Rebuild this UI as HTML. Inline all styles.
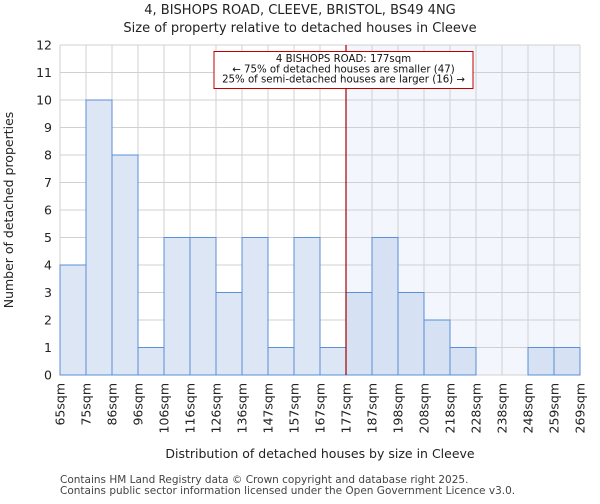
<!DOCTYPE html>
<html><head><meta charset="utf-8"><style>
body{margin:0;background:#fff;font-family:"DejaVu Sans","Liberation Sans",sans-serif}
</style></head><body>
<svg id="chart" width="600" height="500" xmlns="http://www.w3.org/2000/svg" font-family="DejaVu Sans, Liberation Sans, sans-serif">
<text x="300" y="14" text-anchor="middle" font-size="13" fill="#222">4, BISHOPS ROAD, CLEEVE, BRISTOL, BS49 4NG</text>
<text x="300" y="32" text-anchor="middle" font-size="13" fill="#222">Size of property relative to detached houses in Cleeve</text>
<g id="plot"></g>
<text x="320" y="458" text-anchor="middle" font-size="12.5" fill="#222">Distribution of detached houses by size in Cleeve</text>
<text x="0" y="0" transform="translate(13,210) rotate(-90)" text-anchor="middle" font-size="12.5" fill="#222">Number of detached properties</text>
<text x="60" y="483" font-size="10.5" fill="#444">Contains HM Land Registry data © Crown copyright and database right 2025.</text>
<text x="60" y="494" font-size="10.5" fill="#444">Contains public sector information licensed under the Open Government Licence v3.0.</text>
</svg>
<script>
const binLabels=["65sqm","75sqm","86sqm","96sqm","106sqm","116sqm","126sqm","136sqm","147sqm","157sqm","167sqm","177sqm","187sqm","198sqm","208sqm","218sqm","228sqm","238sqm","248sqm","259sqm","269sqm"];
const counts=[4,10,8,1,5,5,3,5,1,5,1,3,5,3,2,1,0,0,1,1];
const yTicks=[0,1,2,3,4,5,6,7,8,9,10,11,12];
const markerIndex=11;
const annotationLines=["4 BISHOPS ROAD: 177sqm","← 75% of detached houses are smaller (47)","25% of semi-detached houses are larger (16) →"];
const NS="http://www.w3.org/2000/svg";
const g=document.getElementById('plot');
const X0=60,X1=580,Y0=375,Y1=45,yMax=12;
const bw=(X1-X0)/counts.length;
const xs=i=>X0+i*bw;
const ys=v=>Y0-(Y0-Y1)*v/yMax;
function mk(t,a){const e=document.createElementNS(NS,t);for(const k in a)e.setAttribute(k,a[k]);g.appendChild(e);return e;}
let sh=mk('rect',{x:xs(markerIndex),y:Y1,width:X1-xs(markerIndex),height:Y0-Y1,fill:'#f3f6fd'});


for(let i=0;i<=counts.length;i++){let l=mk('line',{x1:xs(i),x2:xs(i),y1:Y1,y2:Y0,stroke:'#d0d0d0','stroke-width':1});

}
yTicks.forEach(v=>{let l=mk('line',{x1:X0,x2:X1,y1:ys(v),y2:ys(v),stroke:'#d0d0d0','stroke-width':1});


let t=mk('text',{x:X0-8,y:ys(v)+4.5,'text-anchor':'end','font-size':12.5,fill:'#222'});t.textContent=v;

});
counts.forEach((c,i)=>{if(c<=0)return;let r=mk('rect',{x:xs(i),y:ys(c),width:bw,height:Y0-ys(c),fill:i>=markerIndex?'#d6e2f3':'#dce6f4',stroke:'#5b8fd6','stroke-width':1});

});
binLabels.forEach((s,i)=>{let t=mk('text',{x:0,y:0,transform:`translate(${xs(i)+4.5},383) rotate(-90)`,'text-anchor':'end','font-size':12.5,fill:'#222'});t.textContent=s;

});
let ml=mk('line',{x1:xs(markerIndex),x2:xs(markerIndex),y1:Y1,y2:Y0,stroke:'#a00000','stroke-width':1.2});


let ab=mk('rect',{x:214,y:51.5,width:259,height:37,fill:'#fff',stroke:'#c00000','stroke-width':1});


annotationLines.forEach((s,i)=>{let t=mk('text',{x:343.5,y:62+i*10.3,'text-anchor':'middle','font-size':10.2,fill:'#111'});t.textContent=s;

});
</script>
</body></html>
